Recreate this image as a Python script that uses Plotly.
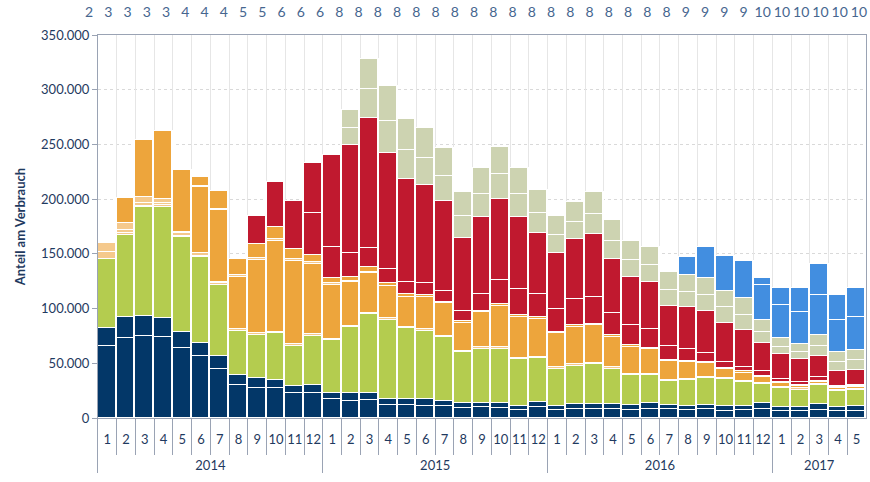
import plotly.graph_objects as go

# ---- categories ----
years = ["2014"] * 12 + ["2015"] * 12 + ["2016"] * 12 + ["2017"] * 5
months = ["1", "2", "3", "4", "5", "6", "7", "8", "9", "10", "11", "12",
          "1", "2", "3", "4", "5", "6", "7", "8", "9", "10", "11", "12",
          "1", "2", "3", "4", "5", "6", "7", "8", "9", "10", "11", "12",
          "1", "2", "3", "4", "5"]
top_counts = [2, 3, 3, 3, 3, 4, 4, 4, 5, 5, 6, 6, 6,
              8, 8, 8, 8, 8, 8, 8, 8, 8, 8, 8, 8, 8, 8, 8, 8, 8, 8,
              9, 9, 9, 9, 10, 10, 10, 10, 10, 10]

# ---- series values (thousands) ----
navy_a = [65.8, 73.4, 74.9, 74.0, 63.7, 56.7, 45.0, 30.2, 27.7, 27.7, 22.5, 23.1,
          17.1, 15.8, 16.4, 11.9, 11.9, 11.2, 11.0, 8.9, 9.7, 9.1, 7.3, 10.3,
          7.3, 8.5, 8.5, 7.9, 7.6, 8.2, 8.2, 7.6, 8.0, 6.7, 7.6, 8.2,
          6.7, 6.7, 7.3, 6.4, 6.4]
navy_b = [16.4, 18.6, 18.6, 17.4, 14.9, 11.6, 11.7, 9.1, 8.6, 7.0, 7.0, 6.8,
          6.0, 6.8, 6.2, 5.5, 5.5, 5.9, 4.8, 4.5, 4.3, 4.9, 3.9, 4.0,
          3.7, 4.0, 4.3, 4.6, 4.3, 5.2, 3.7, 3.4, 4.0, 4.6, 3.4, 5.2,
          3.6, 3.6, 5.2, 3.9, 4.2]
green = [63.1, 75.2, 99.0, 101.7, 86.5, 78.5, 64.5, 40.5, 39.5, 43.3, 36.6, 45.3,
         48.2, 60.8, 72.2, 72.2, 65.1, 62.7, 57.9, 46.6, 49.3, 49.3, 42.7, 40.3,
         34.0, 35.3, 36.5, 32.5, 27.1, 25.6, 21.9, 23.7, 24.8, 24.1, 22.2, 18.0,
         16.8, 15.6, 17.9, 14.4, 15.3]
peach_1 = [6.4, 2.1, 1.5, 1.4, 1.2, 1.0, 1.8, 1.2, 1.7, 0.9, 1.5, 1.3,
           1.2, 1.0, 0.9, 1.5, 0.9, 1.2, 1.2, 1.5, 1.3, 1.3, 1.2, 1.4,
           1.3, 1.3, 1.2, 1.3, 1.2, 1.2, 0.9, 1.2, 0.9, 0.9, 0.9, 0.9,
           1.0, 1.2, 0.7, 0.8, 0.9]
peach_2 = [7.8, 2.5, 2.2, 1.7, 2.5, 2.7, 1.6, 0, 0, 0, 0, 0,
           0, 0, 0, 0, 0, 0, 0, 0, 0, 0, 0, 0,
           0, 0, 0, 0, 0, 0, 0, 0, 0, 0, 0, 0,
           0, 0, 0, 0, 0]
peach_3 = [0, 6.1, 5.5, 3.9, 1.4, 0, 0, 0, 0, 0, 0, 0,
           0, 0, 0, 0, 0, 0, 0, 0, 0, 0, 0, 0,
           0, 0, 0, 0, 0, 0, 0, 0, 0, 0, 0, 0,
           0, 0, 0, 0, 0]
orange_a = [0, 22.8, 52.3, 62.4, 56.4, 60.3, 65.4, 48.3, 66.9, 83.1, 76.1, 64.5,
            49.0, 39.6, 37.1, 29.8, 27.4, 29.3, 29.9, 25.6, 32.0, 38.0, 37.5, 34.5,
            31.1, 34.3, 34.5, 28.0, 25.0, 22.6, 17.7, 15.0, 12.8, 8.2, 7.3, 5.4,
            3.6, 2.4, 2.1, 1.8, 1.2]
peach_d = [0, 0, 0, 0, 0, 1.5, 1.4, 1.0, 1.5, 1.3, 1.6, 1.3,
           1.6, 1.5, 0.9, 0, 0, 0, 0, 0, 0, 0, 0, 0,
           0, 0, 0, 0, 0, 0, 0, 0, 0, 0, 0, 0,
           0, 0, 0, 0, 0]
orange_b = [0, 0, 0, 0, 0, 8.2, 16.3, 14.7, 12.8, 11.0, 9.1, 7.0,
            4.6, 3.1, 4.0, 2.5, 2.5, 1.7, 1.2, 1.5, 1.3, 1.9, 1.9, 1.8,
            1.3, 1.4, 1.3, 1.3, 1.3, 1.3, 1.0, 1.2, 0.9, 0.9, 1.3, 1.0,
            0.9, 0.7, 0.9, 1.0, 0.9]
red_a = [0, 0, 0, 0, 0, 0, 0, 0, 25.9, 41.7, 44.2, 38.3,
         28.9, 22.4, 17.4, 12.8, 10.7, 11.1, 10.3, 9.5, 15.4, 21.6, 23.4, 21.0,
         20.9, 23.7, 24.5, 20.6, 18.5, 16.9, 12.4, 10.7, 8.3, 6.0, 4.2, 3.8,
         2.8, 2.4, 3.1, 1.2, 1.3]
red_b = [0, 0, 0, 0, 0, 0, 0, 0, 0, 0, 0, 45.1,
         83.7, 98.5, 119.3, 106.2, 94.1, 89.8, 82.0, 66.7, 70.1, 73.7, 66.1, 55.5,
         50.9, 54.8, 57.1, 48.8, 43.6, 43.0, 36.8, 38.9, 38.4, 35.7, 33.5, 26.3,
         23.1, 20.9, 19.3, 13.0, 13.7]
sage_a = [0, 0, 0, 0, 0, 0, 0, 0, 0, 0, 0, 0,
          0, 15.8, 26.0, 29.3, 26.8, 24.4, 22.8, 19.8, 21.0, 22.9, 20.4, 18.8,
          16.7, 16.1, 18.2, 17.0, 15.8, 15.5, 14.4, 13.7, 14.3, 14.1, 13.7, 10.1,
          6.7, 6.5, 9.2, 8.5, 9.0]
sage_b = [0, 0, 0, 0, 0, 0, 0, 0, 0, 0, 0, 0,
          0, 16.2, 27.4, 31.7, 28.1, 27.4, 25.9, 21.6, 24.3, 25.2, 23.8, 20.7,
          17.4, 18.3, 20.1, 18.9, 17.6, 16.5, 16.7, 15.1, 15.4, 14.8, 15.4, 10.6,
          8.0, 7.2, 10.1, 9.3, 9.6]
blue_a = [0, 0, 0, 0, 0, 0, 0, 0, 0, 0, 0, 0,
          0, 0, 0, 0, 0, 0, 0, 0, 0, 0, 0, 0,
          0, 0, 0, 0, 0, 0, 0, 16.3, 28.2, 32.0, 34.0, 31.7,
          30.1, 29.9, 36.6, 29.3, 30.1]
blue_b = [0, 0, 0, 0, 0, 0, 0, 0, 0, 0, 0, 0,
          0, 0, 0, 0, 0, 0, 0, 0, 0, 0, 0, 0,
          0, 0, 0, 0, 0, 0, 0, 0, 0, 0, 0, 6.8,
          15.8, 22.0, 28.3, 22.8, 25.9]

NAVY = "#033768"
GREEN = "#B4CC4F"
PEACH = "#F5C98C"
ORANGE = "#EDA53C"
RED = "#C0192F"
SAGE = "#CDD3B1"
BLUE = "#428EE0"

layers = [
    ("navy_a", navy_a, NAVY), ("navy_b", navy_b, NAVY), ("green", green, GREEN),
    ("peach_1", peach_1, PEACH), ("peach_2", peach_2, PEACH), ("peach_3", peach_3, PEACH),
    ("orange_a", orange_a, ORANGE), ("peach_d", peach_d, PEACH), ("orange_b", orange_b, ORANGE),
    ("red_a", red_a, RED), ("red_b", red_b, RED),
    ("sage_a", sage_a, SAGE), ("sage_b", sage_b, SAGE),
    ("blue_a", blue_a, BLUE), ("blue_b", blue_b, BLUE),
]

n = len(months)
# month labels get an empty second line so the year row sits lower
month_labels = [m + "<br>\u00a0" for m in months]

fig = go.Figure()

# invisible trace carrying the vertical category-boundary grid
fig.add_trace(go.Scatter(
    x=list(range(n)), y=[0] * n, xaxis="x3", yaxis="y", mode="markers",
    marker=dict(opacity=0), hoverinfo="skip", showlegend=False,
))

for name, vals, col in layers:
    fig.add_trace(go.Bar(
        x=[years, month_labels],
        y=[v * 1000 if v else None for v in vals],
        name=name,
        marker=dict(color=col, line=dict(color="white", width=1.5)),
        hoverinfo="skip",
    ))

# invisible trace carrying the top label axis
fig.add_trace(go.Scatter(
    x=list(range(len(top_counts))), y=[0] * len(top_counts),
    xaxis="x2", yaxis="y2", mode="markers",
    marker=dict(opacity=0), hoverinfo="skip", showlegend=False,
))

AX = "#9AA3B4"
TXT = "#1F3A60"

fig.update_layout(
    width=870, height=482,
    margin=dict(l=79, r=1, t=35, b=64),
    barmode="stack", bargap=0,
    plot_bgcolor="rgba(0,0,0,0)", paper_bgcolor="white",
    separators=",.",
    showlegend=False,
    font=dict(family="Lato", color=TXT),
    xaxis=dict(
        domain=[0.02405, 0.99620],
        type="multicategory",
        tickson="boundaries",
        ticks="outside", ticklen=36, tickcolor=AX,
        ticklabelstandoff=9,
        tickangle=0,
        showgrid=False,
        showline=True, linecolor=AX, mirror=True,
        showdividers=True, dividercolor=AX, dividerwidth=1,
        tickfont=dict(size=13, color=TXT),
        automargin=False,
    ),
    xaxis3=dict(
        overlaying="x", anchor="y", range=[-0.5, n - 0.5],
        tickvals=[i + 0.5 for i in range(n - 1)],
        showticklabels=False, ticks="",
        showgrid=True, gridcolor="#E6E6E6", gridwidth=1,
        showline=False, zeroline=False, automargin=False,
    ),
    yaxis=dict(
        domain=[0, 1],
        range=[0, 350000], dtick=50000, tickformat=",d",
        showgrid=True, gridcolor="#D9D9D9", griddash="dot",
        showline=True, linecolor=AX, mirror=True,
        ticks="outside", ticklen=5, tickcolor=AX,
        zeroline=False,
        tickfont=dict(size=13, color=TXT),
        title=dict(text="<b>Anteil am Verbrauch</b>", font=dict(size=13, color=TXT), standoff=12),
        automargin=False,
    ),
    xaxis2=dict(
        domain=[0, 1], anchor="y2", side="top",
        range=[-0.52, 40.52],
        tickvals=list(range(len(top_counts))),
        ticktext=[str(c) for c in top_counts],
        showgrid=False, showline=False, zeroline=False, ticks="",
        tickfont=dict(size=14, color="#46668F"),
        ticklabelstandoff=14,
        automargin=False,
    ),
    yaxis2=dict(domain=[0.99, 1], range=[0, 1], visible=False),
)

fig.write_html("out.html", config={"displayModeBar": False},
               post_script="document.body.style.margin='0';")
